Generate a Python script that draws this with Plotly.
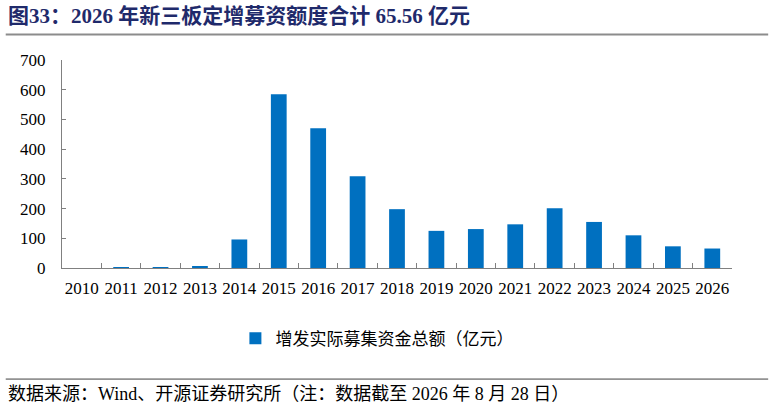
import plotly.graph_objects as go

# 新三板定增募资额度（亿元）
years = [str(y) for y in range(2010, 2027)]
amounts = [0, 3, 2, 4, 96, 585, 470, 309, 198, 125, 131, 147, 201, 155, 110, 73, 65.56]
y_ticks = [0, 100, 200, 300, 400, 500, 600, 700]

title = '图33：2026 年新三板定增募资额度合计 65.56 亿元'
legend_name = '增发实际募集资金总额（亿元）'
source = '数据来源：Wind、开源证券研究所（注：数据截至 2026 年 8 月 28 日）'

serif = 'Liberation Serif, Noto Sans CJK SC, serif'

fig = go.Figure()
fig.add_trace(go.Bar(x=years, y=amounts, name=legend_name, width=0.4,
                     marker_color='#0070C0', marker_line_width=0))

fig.update_layout(
    width=774, height=410,
    margin=dict(l=62, r=42, t=60, b=142),
    plot_bgcolor='white', paper_bgcolor='white',
    font=dict(family=serif, size=17, color='black'),
    showlegend=True,
    legend=dict(orientation='h', x=0.47, xanchor='center', y=-0.34, yanchor='middle',
                font=dict(size=17), itemwidth=30),
)
fig.update_xaxes(type='category', showline=True, linecolor='#808080', linewidth=1,
                 ticks='inside', tickson='boundaries', ticklen=5, tickcolor='#808080',
                 tickangle=0, ticklabelstandoff=5, tickfont=dict(size=17),
                 showgrid=False, automargin=False)
fig.update_yaxes(range=[0, 700], tickvals=y_ticks, showline=True, linecolor='#808080',
                 linewidth=1, ticks='inside', ticklen=4, tickcolor='#808080',
                 ticklabelstandoff=12, showgrid=False, zeroline=False,
                 tickfont=dict(size=17), automargin=False)

# 标题、分隔线与数据来源
fig.add_annotation(text='<b>' + title + '</b>', xref='paper', yref='paper',
                   x=-0.084, y=1.21, xanchor='left', yanchor='middle', showarrow=False,
                   font=dict(size=21, color='#1F2A6B', family=serif))
fig.add_shape(type='line', xref='paper', yref='paper', x0=-0.084, x1=1.054,
              y0=1.123, y1=1.123, line=dict(color='#8C8C8C', width=2))
fig.add_shape(type='line', xref='paper', yref='paper', x0=-0.084, x1=1.054,
              y0=-0.534, y1=-0.534, line=dict(color='#404040', width=1))
fig.add_annotation(text=source, xref='paper', yref='paper',
                   x=-0.084, y=-0.607, xanchor='left', yanchor='middle', showarrow=False,
                   font=dict(size=18, color='black', family=serif))

fig.write_html('out.html', config={'displayModeBar': False},
               post_script="document.body.style.margin='0';")
